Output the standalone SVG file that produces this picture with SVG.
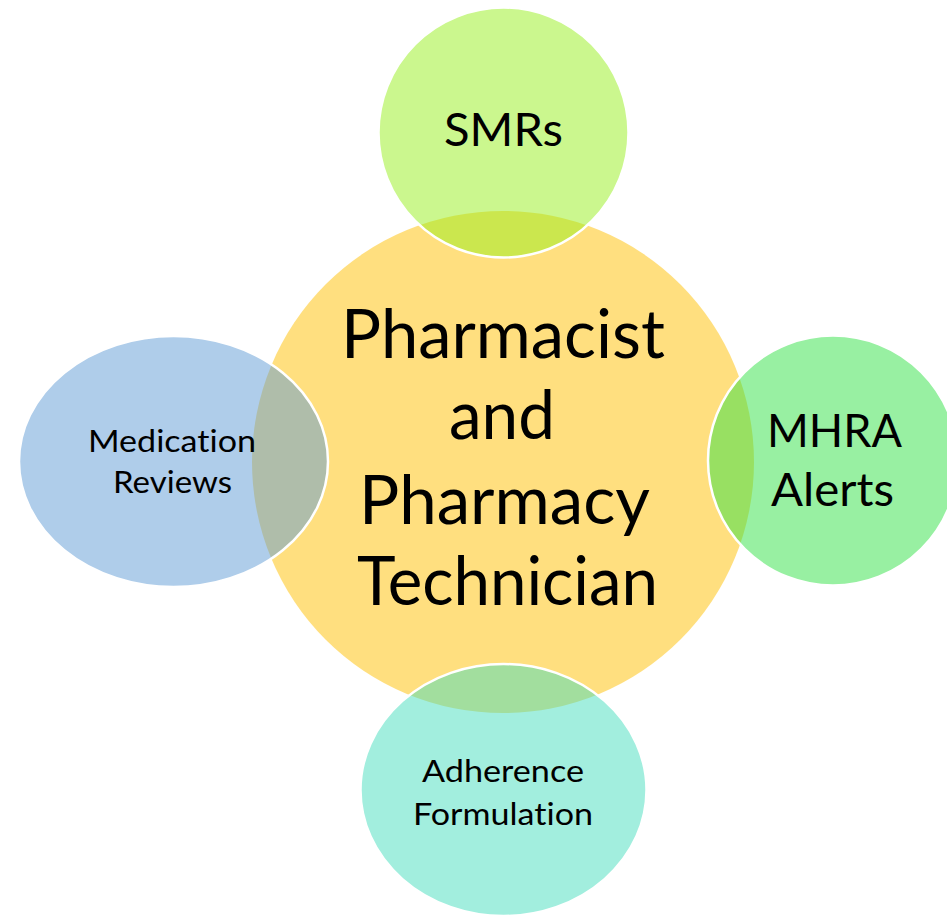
<svg xmlns="http://www.w3.org/2000/svg" width="947" height="915" viewBox="0 0 947 915">
  <style>
    .sat { stroke: #ffffff; stroke-width: 2.5; fill-opacity: 0.5; }
    .lbl { font-family: Lato, "Open Sans", "Liberation Sans", sans-serif; fill: #000000; font-variant-ligatures: none; font-feature-settings: "liga" 0, "clig" 0; }
    .big { font-size: 67px; }
    .mid { font-size: 46px; }
    .sml { font-size: 30px; }
  </style>
  <rect width="947" height="915" fill="#ffffff"/>

  <!-- central hub -->
  <g id="hub">
    <circle cx="503" cy="462" r="251" fill="#FFC000" fill-opacity="0.5"/>
    <text class="lbl big" x="341" y="358" textLength="324" lengthAdjust="spacingAndGlyphs">Pharmacist</text>
    <text class="lbl big" x="449" y="439" textLength="106" lengthAdjust="spacingAndGlyphs">and</text>
    <text class="lbl big" x="359" y="524" textLength="291" lengthAdjust="spacingAndGlyphs">Pharmacy</text>
    <text class="lbl big" x="357" y="605" textLength="301" lengthAdjust="spacingAndGlyphs">Technician</text>
  </g>

  <!-- connectors: none, satellites touch the hub directly -->
  <g id="connectors"/>

  <g id="smrs">
    <circle class="sat" cx="503.5" cy="132.5" r="125" fill="#97EF1D"/>
    <text class="lbl mid" x="444" y="146" textLength="119" lengthAdjust="spacingAndGlyphs">SMRs</text>
  </g>

  <g id="medication-reviews">
    <ellipse class="sat" cx="173.5" cy="461.5" rx="154.5" ry="125.5" fill="#5F9BD5"/>
    <text class="lbl sml" x="88" y="452" textLength="168" lengthAdjust="spacingAndGlyphs">Medication</text>
    <text class="lbl sml" x="113" y="493" textLength="119" lengthAdjust="spacingAndGlyphs">Reviews</text>
  </g>

  <g id="mhra-alerts">
    <circle class="sat" cx="833" cy="460.5" r="125" fill="#31E145"/>
    <text class="lbl mid" x="767" y="447" textLength="135" lengthAdjust="spacingAndGlyphs">MHRA</text>
    <text class="lbl mid" x="771" y="506" textLength="123" lengthAdjust="spacingAndGlyphs">Alerts</text>
  </g>

  <g id="adherence-formulation">
    <ellipse class="sat" cx="503.5" cy="790" rx="143" ry="126" fill="#45DDBD"/>
    <text class="lbl sml" x="422" y="782" textLength="162" lengthAdjust="spacingAndGlyphs">Adherence</text>
    <text class="lbl sml" x="413" y="825" textLength="180" lengthAdjust="spacingAndGlyphs">Formulation</text>
  </g>
</svg>
